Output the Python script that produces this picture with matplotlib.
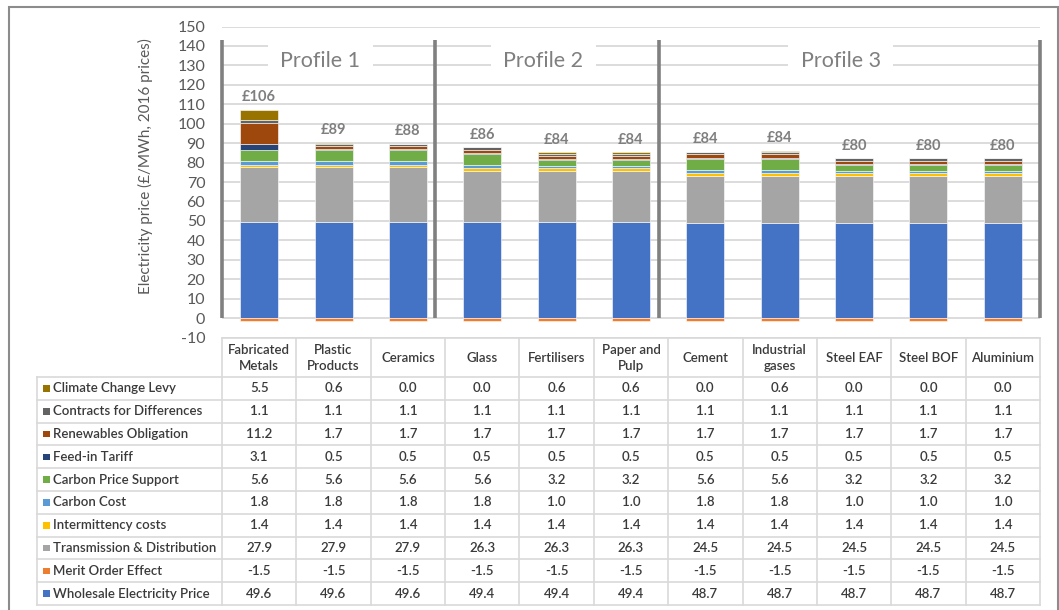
import matplotlib
matplotlib.use("Agg")
import matplotlib.pyplot as plt
import numpy as np
from matplotlib.patches import Rectangle

# ---------------- data ----------------
categories = ["Fabricated\nMetals", "Plastic\nProducts", "Ceramics", "Glass", "Fertilisers",
              "Paper and\nPulp", "Cement", "Industrial\ngases", "Steel EAF", "Steel BOF", "Aluminium"]

# stacking order (bottom -> top)
series_names = ["Wholesale Electricity Price", "Merit Order Effect", "Transmission & Distribution",
                "Intermittency costs", "Carbon Cost", "Carbon Price Support", "Feed-in Tariff",
                "Renewables Obligation", "Contracts for Differences", "Climate Change Levy"]

wholesale = [49.6, 49.6, 49.6, 49.4, 49.4, 49.4, 48.7, 48.7, 48.7, 48.7, 48.7]
merit = [-1.5] * 11
transmission = [27.9, 27.9, 27.9, 26.3, 26.3, 26.3, 24.5, 24.5, 24.5, 24.5, 24.5]
intermittency = [1.4] * 11
carbon_cost = [1.8, 1.8, 1.8, 1.8, 1.0, 1.0, 1.8, 1.8, 1.0, 1.0, 1.0]
carbon_price_support = [5.6, 5.6, 5.6, 5.6, 3.2, 3.2, 5.6, 5.6, 3.2, 3.2, 3.2]
feed_in_tariff = [3.1, 0.5, 0.5, 0.5, 0.5, 0.5, 0.5, 0.5, 0.5, 0.5, 0.5]
renewables_obligation = [11.2, 1.7, 1.7, 1.7, 1.7, 1.7, 1.7, 1.7, 1.7, 1.7, 1.7]
cfd = [1.1] * 11
climate_change_levy = [5.5, 0.6, 0.0, 0.0, 0.6, 0.6, 0.0, 0.6, 0.0, 0.0, 0.0]

series_values = [wholesale, merit, transmission, intermittency, carbon_cost,
                 carbon_price_support, feed_in_tariff, renewables_obligation, cfd,
                 climate_change_levy]
series_colors = ["#4472C4", "#ED7D31", "#A5A5A5", "#FFC000", "#5B9BD5",
                 "#70AD47", "#264478", "#9E480E", "#636363", "#997300"]

total_labels = ["£106", "£89", "£88", "£86", "£84", "£84", "£84", "£84", "£80", "£80", "£80"]

profile_names = ["Profile 1", "Profile 2", "Profile 3"]
profile_bounds = [-0.5, 2.37, 5.38, 10.5]
profile_label_x = [0.82, 3.82, 7.82]

y_ticks = list(range(-10, 151, 10))

# ---------------- figure ----------------
W, H = 1059, 610
plt.rcParams['font.family'] = ['Lato', 'DejaVu Sans']
fig = plt.figure(figsize=(W / 100, H / 100), dpi=100)

# outer border
fig.patches.append(Rectangle((9 / W, -0.05), (1058 - 9) / W, 1.05 - 7 / H,
                             transform=fig.transFigure, fill=False,
                             edgecolor="#8c8c8c", linewidth=1.5))

ax_l, ax_r = 222, 1040
ax_top, ax_bot = 26.5, 337.5
ax = fig.add_axes([ax_l / W, 1 - ax_bot / H, (ax_r - ax_l) / W, (ax_bot - ax_top) / H])

n = len(categories)
x = np.arange(n)
pos_bottom = np.zeros(n)
neg_bottom = np.zeros(n)
for vals, col in zip(series_values, series_colors):
    v = np.array(vals, dtype=float)
    bottom = np.where(v >= 0, pos_bottom, neg_bottom)
    ax.bar(x, v, width=0.51, bottom=bottom, color=col, edgecolor="white",
           linewidth=0.4, zorder=3)
    pos_bottom += np.where(v >= 0, v, 0)
    neg_bottom += np.where(v < 0, v, 0)

for xi, top, lab in zip(x, pos_bottom, total_labels):
    ax.text(xi, top + 3.0, lab, ha="center", va="bottom", fontsize=10.5,
            fontweight="bold", color="#7f7f7f", zorder=5)

ax.set_xlim(-0.5, n - 0.5)
ax.set_ylim(-10, 150)
ax.set_yticks(y_ticks)
ax.set_yticklabels([str(t) for t in y_ticks])
ax.tick_params(axis="y", length=0, pad=12, labelsize=11.5, labelcolor="#595959")
ax.set_xticks([])
ax.grid(axis="y", color="#d9d9d9", linewidth=1.3, zorder=0)
for s in ax.spines.values():
    s.set_visible(False)

# profile separators and labels
for b in profile_bounds:
    ax.plot([b, b], [0, 143], color="#808080", linewidth=2.6, zorder=4,
            solid_capstyle="butt", clip_on=False)
for px, name in zip(profile_label_x, profile_names):
    ax.text(px, 132.5, name, ha="center", va="center", fontsize=15.5,
            color="#7f7f7f", zorder=4,
            bbox=dict(facecolor="white", edgecolor="none", pad=9))

fig.text(145 / W, 1 - 166 / H, "Electricity price (£/MWh, 2016 prices)", rotation=90,
         ha="center", va="center", fontsize=11, color="#595959")

# ---------------- data table ----------------
tab_l, tab_r, tab_top, tab_bot = 37, 1040, 337.5, 605
colw = (ax_r - ax_l) / n
axt = fig.add_axes([tab_l / W, 1 - tab_bot / H, (tab_r - tab_l) / W, (tab_bot - tab_top) / H])
x0 = -0.5 - (ax_l - tab_l) / colw
axt.set_xlim(x0, n - 0.5)
header_h = 39.5
row_h = (tab_bot - tab_top - header_h) / 10
axt.set_ylim(tab_bot - tab_top, 0)
axt.axis("off")

grid_c = "#d9d9d9"
lw = 1.2
axt.plot([-0.5, n - 0.5], [0, 0], color=grid_c, lw=lw, clip_on=False)
axt.plot([x0, n - 0.5], [header_h, header_h], color=grid_c, lw=lw, clip_on=False)
for i in range(1, 11):
    yy = header_h + i * row_h
    axt.plot([x0, n - 0.5], [yy, yy], color=grid_c, lw=lw, clip_on=False)
axt.plot([x0, x0], [header_h, header_h + 10 * row_h], color=grid_c, lw=lw, clip_on=False)
for j in range(n + 1):
    xx = j - 0.5
    axt.plot([xx, xx], [0, header_h + 10 * row_h], color=grid_c, lw=lw, clip_on=False)

txt_c = "#3a3a3a"
tw = "semibold"
for j, cat in enumerate(categories):
    axt.text(j, header_h / 2 + 0.5, cat, ha="center", va="center", fontsize=9.5,
             color=txt_c, linespacing=1.45, fontweight=tw)

rows = list(zip(series_names, series_values, series_colors))[::-1]
sq = 6.5 / colw
for r, (name, vals, col) in enumerate(rows):
    yc = header_h + (r + 0.5) * row_h
    axt.add_patch(Rectangle((x0 + 6 / colw, yc - 3.3), sq, 6.6, facecolor=col,
                            edgecolor="none", clip_on=False))
    axt.text(x0 + 16 / colw, yc, name, ha="left", va="center", fontsize=9.5,
             color=txt_c, fontweight=tw)
    for j, v in enumerate(vals):
        axt.text(j, yc, f"{v:.1f}", ha="center", va="center", fontsize=9.5,
                 color=txt_c, fontweight=tw)

fig.savefig("out.png", dpi=100)
